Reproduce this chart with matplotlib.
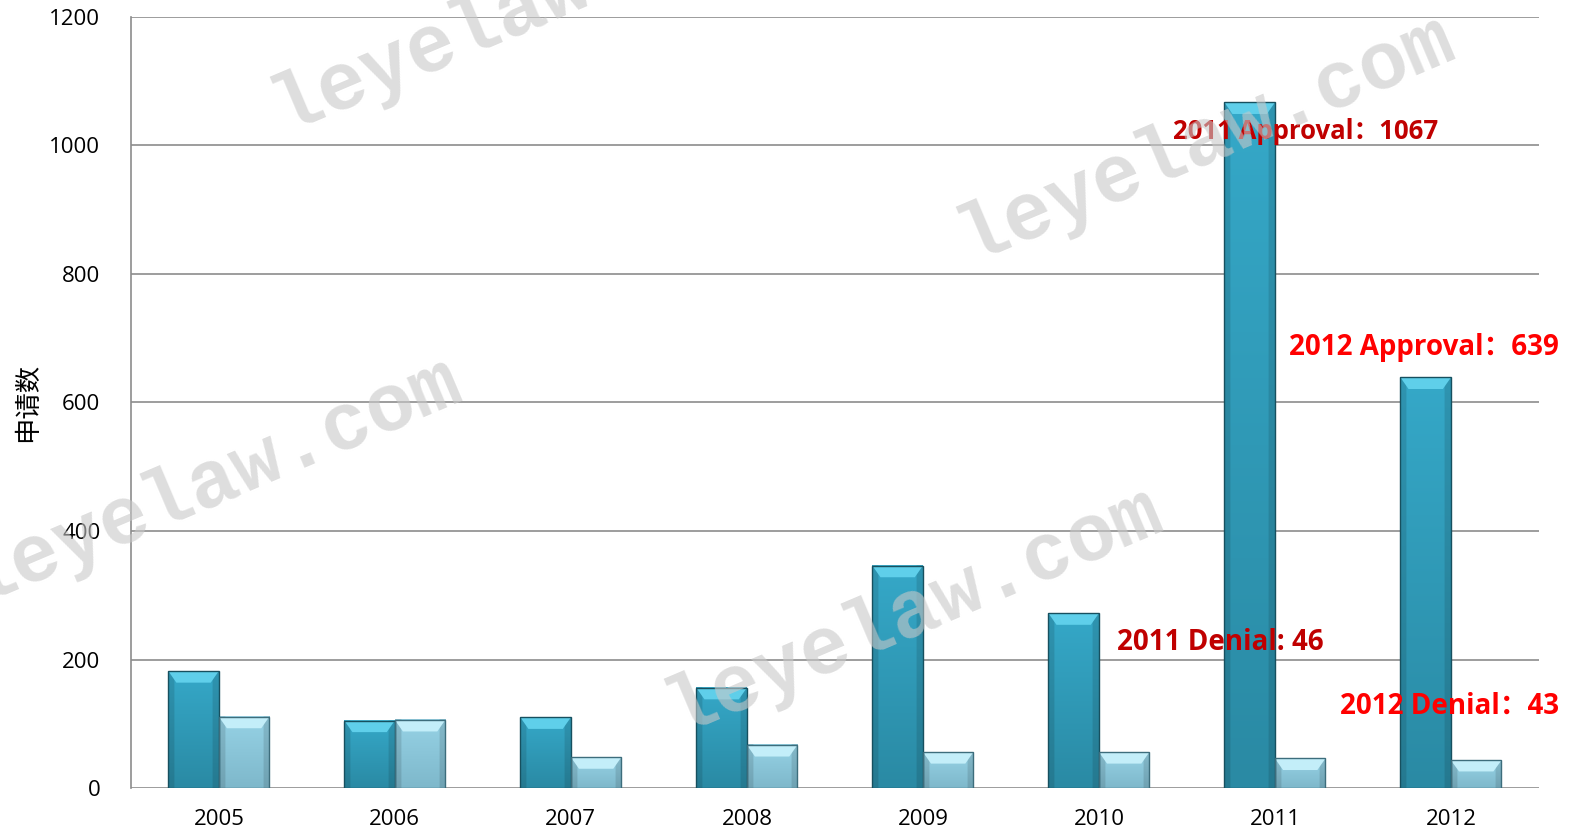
import matplotlib
matplotlib.use('Agg')
import matplotlib.pyplot as plt
from matplotlib.colors import to_rgb
from matplotlib.patches import Rectangle, Polygon
import numpy as np

years = ['2005', '2006', '2007', '2008', '2009', '2010', '2011', '2012']
approval = [182, 105, 110, 156, 346, 272, 1067, 639]
denial = [111, 106, 48, 67, 56, 56, 46, 43]
y_ticks = [0, 200, 400, 600, 800, 1000, 1200]

plt.rcParams['font.family'] = ['Open Sans', 'Noto Sans CJK SC', 'DejaVu Sans']

fig = plt.figure(figsize=(15.76, 8.36), dpi=100)
ax = fig.add_axes([0.083, 0.0574, 0.8935, 0.9223])

x = np.arange(len(years)) + 0.5
w = 0.287


def bevel_bar(ax, xc, h, top, bottom, cap, edge):
    # shaded bar: vertical gradient, darker sides, light cap on top
    left = xc - w / 2
    ny, nx = 64, 32
    t = np.linspace(0, 1, ny)[:, None]
    c = t * np.array(to_rgb(top)) + (1 - t) * np.array(to_rgb(bottom))
    img = np.repeat(c[:, None, :], nx, axis=1)
    u = np.linspace(-1, 1, nx)
    side = 1 - 0.12 * (np.abs(u) > 0.8)
    img = img * side[None, :, None]
    ax.imshow(img, extent=[left, left + w, 0, h], origin='lower', aspect='auto',
              interpolation='bilinear', zorder=3)
    bh = min(18, h * 0.4)
    ax.add_patch(Polygon([[left, h], [left + w, h], [left + w * 0.84, h - bh],
                          [left + w * 0.16, h - bh]], closed=True,
                         facecolor=cap, edgecolor='none', zorder=4))
    ax.add_patch(Rectangle((left, 0), w, h, facecolor='none', edgecolor=edge,
                           linewidth=1.0, zorder=5))


for xc, a, d in zip(x, approval, denial):
    bevel_bar(ax, xc - w / 2, a, '#35a8c8', '#2a8aa4', '#5fcfea', '#17505f')
    bevel_bar(ax, xc + w / 2, d, '#96d2e5', '#7eb8cb', '#c3eef9', '#3d6d7c')

ax.set_xlim(0, len(years))
ax.set_ylim(0, 1200)
ax.set_yticks(y_ticks)
ax.set_xticks(x)
ax.set_xticklabels(years)
ax.tick_params(axis='both', length=0, labelsize=16)
ax.tick_params(axis='x', pad=15)
ax.tick_params(axis='y', pad=22)
ax.yaxis.grid(True, color='#8c8c8c', linewidth=1.2, zorder=0)
ax.set_axisbelow(True)
for s in ['top', 'right', 'bottom']:
    ax.spines[s].set_visible(False)
ax.spines['left'].set_color('#8c8c8c')
ax.spines['left'].set_linewidth(1.2)
ax.set_ylabel('申请数', fontsize=19, labelpad=6)

ax.text(5.92, 1021, '2011 Approval：1067', color='#c00000', fontsize=18.5, fontweight='bold',
        va='center', ha='left', zorder=6)
ax.text(6.58, 686, '2012 Approval：639', color='#ff0000', fontsize=20, fontweight='bold',
        va='center', ha='left', zorder=6, clip_on=False)
ax.text(5.60, 226, '2011 Denial: 46', color='#c00000', fontsize=20, fontweight='bold',
        va='center', ha='left', zorder=6)
ax.text(6.87, 127, '2012 Denial：43', color='#ff0000', fontsize=20, fontweight='bold',
        va='center', ha='left', zorder=6, clip_on=False)

# watermarks
for (cx, cy) in [(0.33, 0.99), (0.765, 0.835), (0.135, 0.425), (0.58, 0.27)]:
    fig.text(cx, cy, 'leyelaw.com', fontsize=58, family='Liberation Mono', fontweight='bold',
             color='#c8c8c8', alpha=0.6, rotation=23, ha='center', va='center', zorder=10)

fig.savefig('out.png', dpi=100)
